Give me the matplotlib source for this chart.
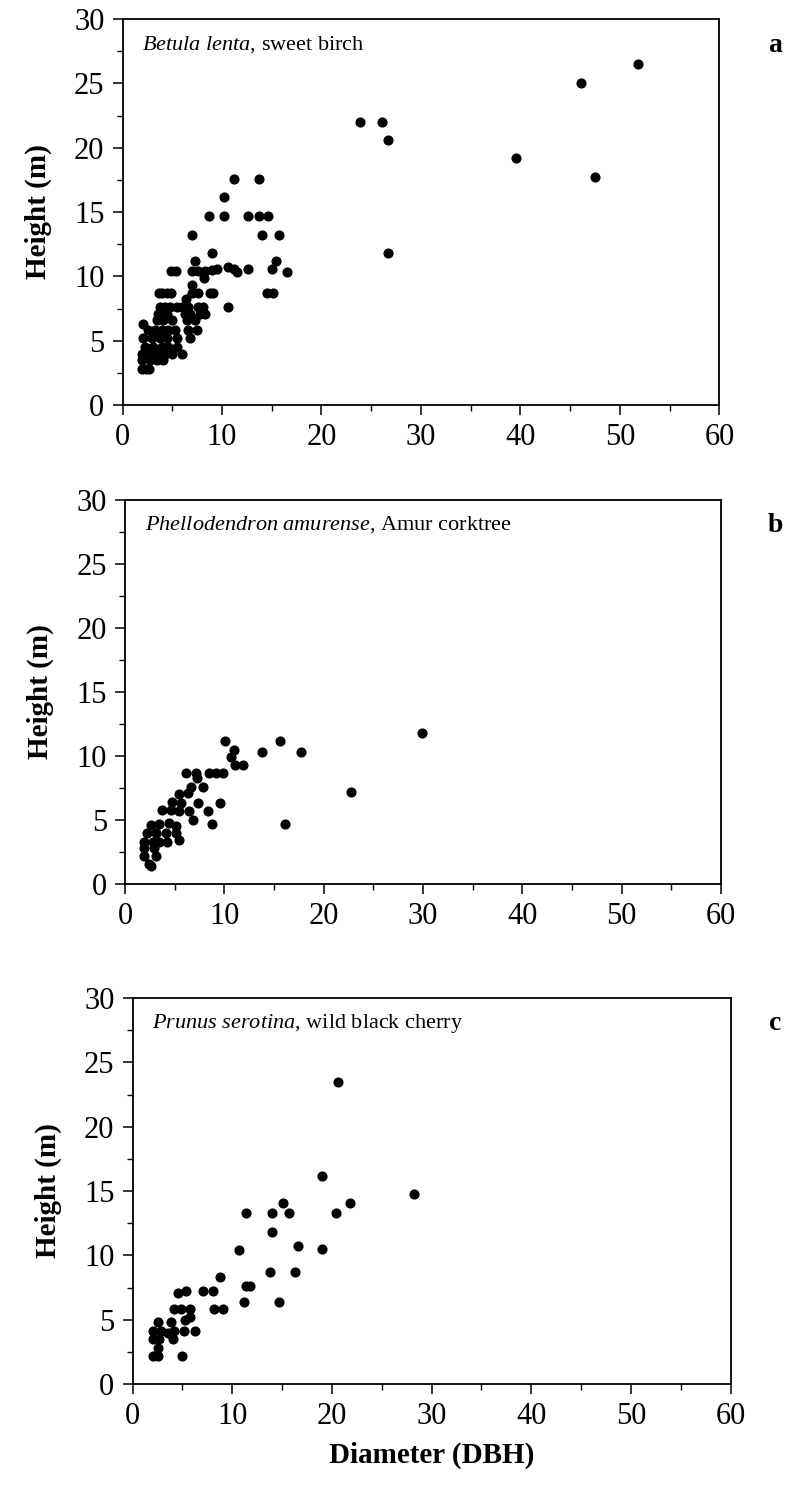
import matplotlib
matplotlib.use("Agg")
import matplotlib.pyplot as plt
from matplotlib.ticker import MultipleLocator

plt.rcParams['font.family'] = ['Liberation Serif', 'DejaVu Serif']
plt.rcParams['mathtext.fontset'] = 'custom'
plt.rcParams['mathtext.rm'] = 'Liberation Serif'
plt.rcParams['mathtext.it'] = 'Liberation Serif:italic'

# ---- Betula lenta (sweet birch) ----
birch_dbh = [
    11.2, 13.7, 10.2, 8.7, 10.2, 12.6, 13.7, 14.6, 7.0, 14.0, 15.7, 9.0, 7.3, 15.4,
    4.9, 5.4, 7.0, 7.6, 8.3, 9.0, 9.5, 10.6, 11.2, 11.5, 12.6, 15.0, 16.5,
    8.2, 7.0,
    3.7, 4.0, 4.5, 4.9, 7.0, 7.6, 8.8, 9.1, 14.5, 15.1,
    6.4, 10.6,
    3.8, 4.3, 4.8, 5.5, 6.0, 6.6, 7.6, 8.1,
    3.6, 4.5, 6.3, 6.8, 7.8, 8.3,
    3.5, 4.1, 5.0, 6.5, 7.3,
    2.1,
    2.6, 3.3, 4.0, 4.6, 5.3, 6.6, 7.5,
    2.1, 3.0, 3.8, 4.5, 5.5, 6.8,
    2.3, 3.1, 4.0, 4.6, 5.5,
    2.0, 2.6, 3.5, 4.3, 5.0, 6.0,
    2.0, 2.8, 3.5, 4.1,
    2.0, 2.4, 2.7,
    23.9, 26.1, 26.7, 26.7, 39.5, 46.1, 47.5, 51.8,
]
birch_height = [
    17.6, 17.6, 16.2, 14.7, 14.7, 14.7, 14.7, 14.7, 13.2, 13.2, 13.2, 11.8, 11.2, 11.2,
    10.4, 10.4, 10.4, 10.4, 10.4, 10.5, 10.6, 10.7, 10.6, 10.3, 10.6, 10.6, 10.3,
    9.9, 9.3,
    8.7, 8.7, 8.7, 8.7, 8.7, 8.7, 8.7, 8.7, 8.7, 8.7,
    8.2, 7.6,
    7.6, 7.6, 7.6, 7.6, 7.6, 7.6, 7.6, 7.6,
    7.1, 7.1, 7.1, 7.1, 7.1, 7.1,
    6.6, 6.6, 6.6, 6.6, 6.6,
    6.3,
    5.8, 5.8, 5.8, 5.8, 5.8, 5.8, 5.8,
    5.2, 5.2, 5.2, 5.2, 5.2, 5.2,
    4.5, 4.5, 4.5, 4.5, 4.5,
    4.0, 4.0, 4.0, 4.0, 4.0, 4.0,
    3.5, 3.5, 3.5, 3.5,
    2.8, 2.8, 2.8,
    22.0, 22.0, 20.6, 11.8, 19.2, 25.0, 17.7, 26.5,
]

# ---- Phellodendron amurense (Amur corktree) ----
cork_dbh = [
    10.1, 15.6, 11.0, 13.8, 17.7, 10.7, 11.1, 11.9,
    6.1, 7.1, 8.5, 9.2, 9.9, 7.2, 6.6, 7.9,
    5.4, 6.3, 4.7, 5.6, 7.3, 3.7, 4.6, 8.4, 9.6, 5.4, 6.4, 6.8,
    2.6, 3.4, 4.4, 5.1, 8.8, 16.1,
    2.2, 3.1, 4.1, 5.1, 5.4,
    1.9, 2.8, 3.4, 4.2, 1.9, 2.9, 1.9, 3.1, 2.4, 2.6,
    22.8, 29.9,
]
cork_height = [
    11.2, 11.2, 10.5, 10.3, 10.3, 9.9, 9.3, 9.3,
    8.7, 8.7, 8.7, 8.7, 8.7, 8.3, 7.6, 7.6,
    7.0, 7.1, 6.4, 6.3, 6.3, 5.8, 5.8, 5.7, 6.3, 5.7, 5.7, 5.0,
    4.6, 4.7, 4.8, 4.5, 4.7, 4.7,
    4.0, 4.0, 4.0, 4.0, 3.4,
    3.3, 3.3, 3.3, 3.3, 2.8, 2.8, 2.2, 2.2, 1.6, 1.4,
    7.2, 11.8,
]

# ---- Prunus serotina (wild black cherry) ----
cherry_dbh = [
    20.6, 28.2, 19.0, 15.1, 21.8, 11.4, 14.0, 15.7, 20.4,
    14.0, 16.6, 19.0, 10.7, 13.8, 16.3, 8.8, 11.4, 11.8,
    7.1, 8.1, 4.6, 5.4, 11.2, 14.7, 8.2, 9.1,
    4.2, 4.9, 5.8, 5.8, 5.3, 2.6, 3.9,
    2.1, 2.9, 3.6, 4.2, 5.2, 6.3,
    2.1, 2.7, 4.1, 2.6, 2.1, 2.6, 5.0,
]
cherry_height = [
    23.5, 14.8, 16.2, 14.1, 14.1, 13.3, 13.3, 13.3, 13.3,
    11.8, 10.7, 10.5, 10.4, 8.7, 8.7, 8.3, 7.6, 7.6,
    7.2, 7.2, 7.1, 7.2, 6.4, 6.4, 5.8, 5.8,
    5.8, 5.8, 5.8, 5.2, 4.95, 4.8, 4.8,
    4.15, 4.15, 4.0, 4.15, 4.15, 4.15,
    3.5, 3.5, 3.5, 2.8, 2.2, 2.2, 2.2,
]

titles = [
    r"$\mathit{Betula\ lenta}$, sweet birch",
    r"$\mathit{Phellodendron\ amurense}$, Amur corktree",
    r"$\mathit{Prunus\ serotina}$, wild black cherry",
]
letters = ["a", "b", "c"]
x_ticks = [0, 10, 20, 30, 40, 50, 60]
y_ticks = [0, 5, 10, 15, 20, 25, 30]

W, H = 799, 1498
fig = plt.figure(figsize=(W / 100, H / 100), dpi=100)

# axes boxes in pixels: left, top, right, bottom
boxes = [
    (122.5, 19, 719.5, 405),
    (125.0, 500, 721.0, 884),
    (132.5, 998, 730.5, 1384),
]
series = [(birch_dbh, birch_height), (cork_dbh, cork_height), (cherry_dbh, cherry_height)]

for i, ((l, t, r, b), (xs, ys)) in enumerate(zip(boxes, series)):
    ax = fig.add_axes([l / W, 1 - b / H, (r - l) / W, (b - t) / H])
    ax.plot(xs, ys, 'o', color='black', markersize=7.3, markeredgewidth=0)
    ax.set_xlim(0, 60)
    ax.set_ylim(0, 30)
    ax.set_xticks(x_ticks)
    ax.set_yticks(y_ticks)
    ax.xaxis.set_minor_locator(MultipleLocator(5))
    ax.yaxis.set_minor_locator(MultipleLocator(2.5))
    ax.tick_params(which='major', direction='out', length=7, width=1.1,
                   labelsize=22, pad=6)
    ax.tick_params(which='minor', direction='out', length=4, width=1.0)
    for sp in ax.spines.values():
        sp.set_linewidth(1.3)
    ax.set_ylabel("Height (m)", fontsize=21, fontweight='bold', labelpad=16)
    ax.text(0.033, 0.935, titles[i], transform=ax.transAxes, fontsize=16,
            ha='left', va='center')
    fig.text(775 / W, 1 - (t + 26) / H, letters[i], fontsize=20,
             fontweight='bold', ha='center', va='center')
    if i == 2:
        ax.set_xlabel("Diameter (DBH)", fontsize=21, fontweight='bold',
                      labelpad=8)

fig.savefig("out.png", dpi=100, facecolor='white')
